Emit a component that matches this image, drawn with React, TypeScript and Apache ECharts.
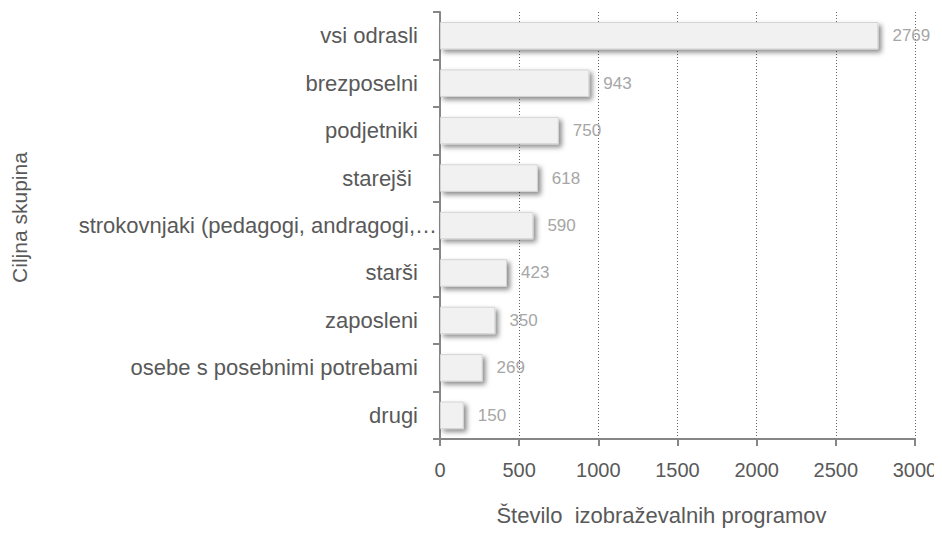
import React, { useEffect, useRef } from "react";
import * as echarts from "echarts";

const categories = [
  "vsi odrasli",
  "brezposelni",
  "podjetniki",
  "starejši ",
  "strokovnjaki (pedagogi, andragogi,…",
  "starši",
  "zaposleni",
  "osebe s posebnimi potrebami",
  "drugi",
];
const values = [2769, 943, 750, 618, 590, 423, 350, 269, 150];
const xTitle = "Število  izobraževalnih programov";
const yTitle = "Ciljna skupina";

const FONT = "'Liberation Sans', Arial, sans-serif";

export default function App() {
  const ref = useRef<HTMLDivElement>(null);
  useEffect(() => {
    const chart = echarts.init(ref.current!, null, { renderer: "svg" });
    const catData = categories.map((c) =>
      c.endsWith("…") ? { value: c, textStyle: { padding: [0, 0, 0, 0] } } : c
    );
    chart.setOption({
      animation: false,
      backgroundColor: "#ffffff",
      textStyle: { fontFamily: FONT },
      grid: { left: 440, right: 27, top: 12, bottom: 100 },
      xAxis: {
        type: "value",
        min: 0,
        max: 3000,
        interval: 500,
        name: xTitle,
        nameLocation: "middle",
        nameGap: 65,
        nameTextStyle: { fontSize: 22, color: "#595959", fontFamily: FONT, padding: [0, 32, 0, 0] },
        axisLine: { show: true, lineStyle: { color: "#868686", width: 2 } },
        axisTick: { show: true, length: 7, lineStyle: { color: "#868686", width: 2 } },
        axisLabel: {
          fontSize: 20,
          color: "#595959",
          margin: 21,
          fontFamily: FONT,
          formatter: (v: number) => String(v),
        },
        splitLine: { show: true, lineStyle: { color: "#666666", type: [1, 2], width: 1 } },
      },
      yAxis: {
        type: "category",
        data: catData,
        inverse: true,
        name: yTitle,
        nameLocation: "middle",
        nameGap: 410,
        nameRotate: 90,
        nameTextStyle: { fontSize: 21, color: "#595959", fontFamily: FONT, padding: [0, 0, 0, 16] },
        axisLine: { show: true, lineStyle: { color: "#868686", width: 2 } },
        axisTick: { show: true, length: 7, lineStyle: { color: "#868686", width: 2 } },
        axisLabel: {
          fontSize: 22,
          color: "#595959",
          margin: 3,
          padding: [0, 19, 0, 0],
          fontFamily: FONT,
        },
        splitLine: { show: false },
      },
      series: [
        {
          type: "bar",
          data: values,
          barWidth: "58%",
          itemStyle: {
            color: "#f1f1f1",
            borderColor: "#d4d4d4",
            borderWidth: 1,
            shadowColor: "rgba(0,0,0,0.45)",
            shadowBlur: 5,
            shadowOffsetX: 3,
            shadowOffsetY: 3,
          },
          label: {
            show: true,
            position: "right",
            distance: 14,
            fontSize: 17,
            color: "#a6a6a6",
            fontFamily: FONT,
          },
        },
      ],
    });
    return () => chart.dispose();
  }, []);
  return <div ref={ref} style={{ width: 942, height: 539, margin: -8 }} />;
}
